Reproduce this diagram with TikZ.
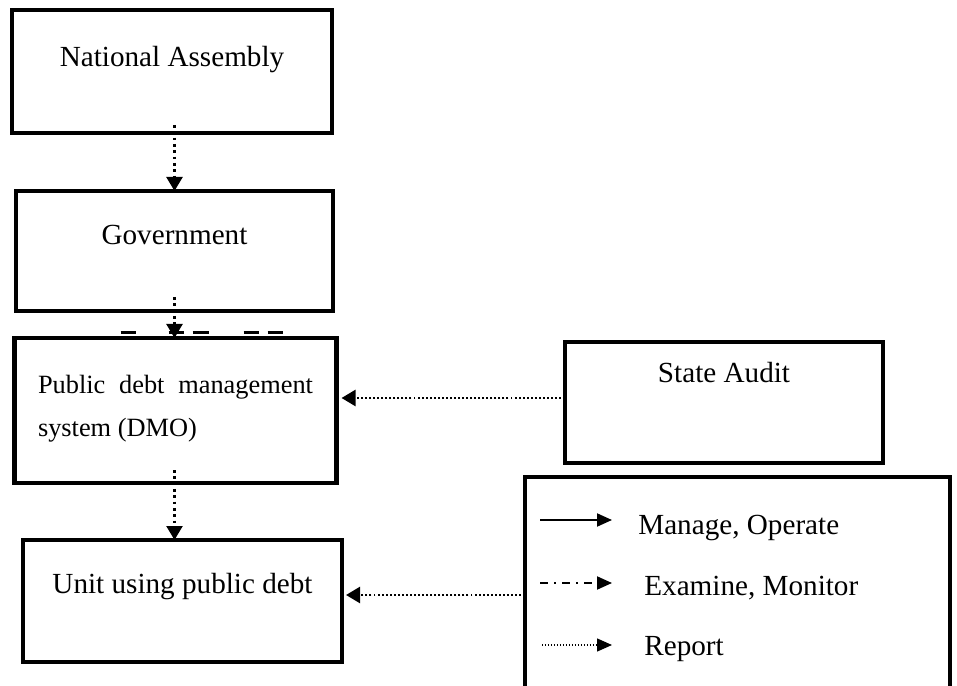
\documentclass[tikz,border=0pt]{standalone}
\usepackage{fontspec}
\setmainfont{Liberation Serif}
\usetikzlibrary{arrows.meta, positioning, calc}

\begin{document}
\begin{tikzpicture}[
  box/.style={draw, line width=2.8pt, outer sep=0pt, inner sep=0pt},
  txt/.style={font=\fontsize{16.6}{20}\selectfont, inner sep=0pt},
  rep/.style={line width=1.4pt, dash pattern=on 1.1pt off 1.2pt, -{Triangle[length=0.28cm, width=0.32cm]}},
  repv/.style={line width=1.4pt, dash pattern=on 1.5pt off 2.1pt, -{Triangle[length=0.28cm, width=0.32cm]}},
  key/.style={line width=1.1pt, -{Triangle[length=0.3cm, width=0.26cm]}}
]
\useasboundingbox (0,0) rectangle (19.14,-13.72);
\node[box, minimum width=6.4cm, minimum height=2.46cm] (na) at (3.44,-1.43) {};
\node[box, minimum width=6.34cm, minimum height=2.4cm, below=1.16cm of na, xshift=0.05cm] (gov) {};
\node[box, minimum width=6.44cm, minimum height=2.9cm, below=0.54cm of gov, xshift=0.02cm] (dmo) {};
\node[box, minimum width=6.38cm, minimum height=2.44cm, below=1.14cm of dmo, xshift=0.14cm] (unit) {};
\node[box, minimum width=6.36cm, minimum height=2.42cm, right=4.57cm of dmo, yshift=0.16cm] (sa) {};
\node[box, minimum width=8.5cm, minimum height=4.3cm, below=0.28cm of sa, xshift=0.27cm] (leg) {};

\node[txt] (natxt) at ([yshift=-1.0cm]na.north) {National Assembly};
\node[txt] (govtxt) at ([yshift=-0.88cm]gov.north) {Government};
\node[txt, font=\fontsize{15}{24.4}\selectfont, text width=5.5cm, align=justify] (dmotxt) at ([yshift=0.04cm]dmo.center) {Public debt management system (DMO)};
\node[txt] (unittxt) at ([yshift=-0.94cm]unit.north) {Unit using public debt};
\node[txt] (satxt) at ([yshift=-0.62cm]sa.north) {State Audit};

\coordinate (saw) at ([yshift=0.09cm]sa.west);
\coordinate (unite) at ([yshift=0.12cm]unit.east);
\draw[repv] ([yshift=0.16cm]gov.north |- na.south) -- (gov.north);
\draw[repv] ([yshift=0.28cm]gov.north |- gov.south) -- (gov.north |- dmo.north);
\draw[repv] ([yshift=0.26cm]gov.north |- dmo.south) -- (gov.north |- unit.north);
\draw[rep] (saw) -- ([xshift=0.1cm]saw -| dmo.east);
\draw[rep] (unite -| leg.west) -- ([xshift=0.08cm]unite);
\draw[line width=0.06cm, dash pattern=on 0.3cm off 0.66cm on 0.3cm off 0.18cm on 0.32cm off 0.7cm on 0.3cm off 0.18cm on 0.3cm]
  ([xshift=-1.1cm, yshift=0.1cm]dmo.north) -- ([xshift=2.14cm, yshift=0.1cm]dmo.north);

\coordinate (k1a) at ($(leg.north west)+(0.3,-0.86)$);
\coordinate (k1b) at ($(leg.north west)+(1.74,-0.86)$);
\coordinate (k2a) at ($(leg.north west)+(0.3,-2.12)$);
\coordinate (k2b) at ($(leg.north west)+(1.74,-2.12)$);
\coordinate (k3a) at ($(leg.north west)+(0.34,-3.36)$);
\coordinate (k3b) at ($(leg.north west)+(1.74,-3.36)$);
\draw[key] (k1a) -- (k1b);
\draw[key, dash pattern=on 0.16cm off 0.12cm on 0.04cm off 0.12cm] (k2a) -- (k2b);
\draw[key, line width=0.8pt, dash pattern=on 0.8pt off 0.9pt] (k3a) -- (k3b);
\node[txt, anchor=base west] (k1txt) at ($(leg.north west)+(2.26,-1.14)$) {Manage, Operate};
\node[txt, anchor=base west] (k2txt) at ($(leg.north west)+(2.38,-2.36)$) {Examine, Monitor};
\node[txt, anchor=base west] (k3txt) at ($(leg.north west)+(2.38,-3.56)$) {Report};
\end{tikzpicture}
\end{document}
